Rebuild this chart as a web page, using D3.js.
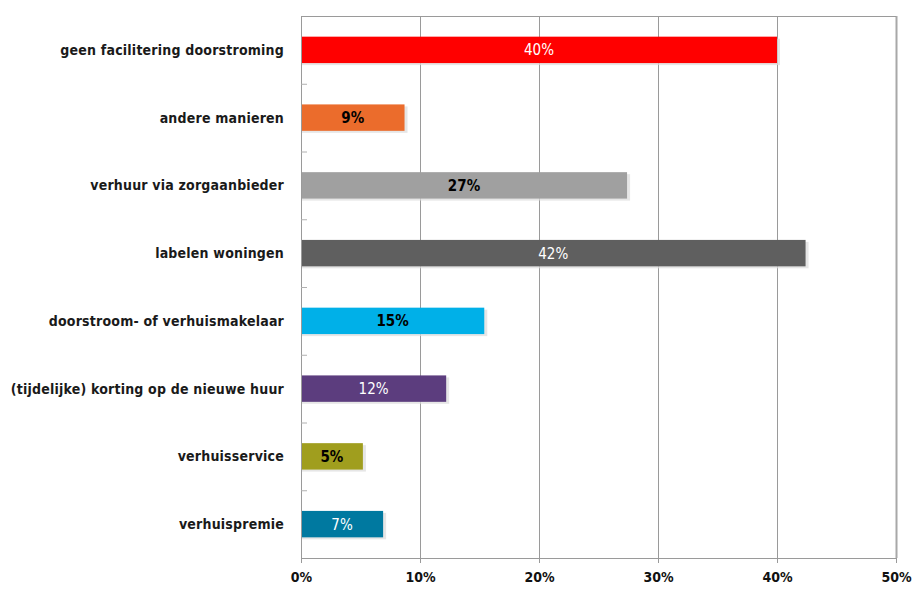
<!DOCTYPE html>
<html>
<head>
<meta charset="utf-8">
<script src="https://cdn.jsdelivr.net/npm/d3@7"></script>
<style>
  html, body { margin: 0; padding: 0; background: #fff; }
  svg { display: block; }
  .cat { font-family: "DejaVu Sans Condensed", "DejaVu Sans", sans-serif; font-size: 14px; font-weight: bold; letter-spacing: 0.2px; fill: #1a1a1a; }
  .tick-label { font-family: "DejaVu Sans Condensed", "DejaVu Sans", sans-serif; font-size: 14px; font-weight: bold; fill: #111; }
  .val { font-family: "DejaVu Sans Condensed", "DejaVu Sans", sans-serif; font-size: 15px; }
</style>
</head>
<body>
<svg id="chart" width="915" height="590"></svg>
<script>
// Survey answers: share of respondents per measure
const categories = [
  "geen facilitering doorstroming",
  "andere manieren",
  "verhuur via zorgaanbieder",
  "labelen woningen",
  "doorstroom- of verhuismakelaar",
  "(tijdelijke) korting op de nieuwe huur",
  "verhuisservice",
  "verhuispremie"
];
const values = [0.40, 0.087, 0.274, 0.424, 0.154, 0.122, 0.052, 0.069];
const barColors = ["#ff0000", "#eb6c2c", "#a0a0a0", "#5f5f5f", "#00b0e8", "#5c3d7e", "#a09e1e", "#0079a0"];
const labelColors = ["#ffffff", "#000000", "#000000", "#ffffff", "#000000", "#ffffff", "#000000", "#ffffff"];
const xTicks = [0, 0.1, 0.2, 0.3, 0.4, 0.5];

const svg = d3.select("#chart");
const plotL = 301, plotR = 896, plotT = 16, plotB = 558;

const x = d3.scaleLinear().domain([0, 0.5]).range([plotL, plotR]);
const y = d3.scaleBand().domain(categories).range([plotT, plotB]).paddingInner(0.61).paddingOuter(0.305);
const band = d3.scaleBand().domain(categories).range([plotT, plotB]);

// vertical gridlines
svg.append("g").selectAll("line").data(xTicks.slice(1)).join("line")
  .attr("x1", d => x(d) + 0.5).attr("x2", d => x(d) + 0.5)
  .attr("y1", plotT).attr("y2", plotB)
  .attr("stroke", d => d === 0.5 ? "#a8a8a8" : "#9a9a9a")
  .attr("stroke-width", d => d === 0.5 ? 2 : 1);

// top border
svg.append("line").attr("x1", plotL).attr("x2", plotR).attr("y1", plotT + 0.5).attr("y2", plotT + 0.5)
  .attr("stroke", "#9a9a9a");

// bar shadows
svg.append("g").selectAll("rect").data(categories).join("rect")
  .attr("x", plotL + 1)
  .attr("y", d => y(d) + 2)
  .attr("width", (d, i) => x(values[i]) - plotL + 2)
  .attr("height", y.bandwidth())
  .attr("fill", "#dcdcdc")
  .attr("opacity", 0.7);

// bars
svg.append("g").selectAll("rect").data(categories).join("rect")
  .attr("x", plotL)
  .attr("y", d => y(d))
  .attr("width", (d, i) => x(values[i]) - plotL)
  .attr("height", y.bandwidth())
  .attr("fill", (d, i) => barColors[i]);

// value labels
const fmt = d3.format(".0%");
svg.append("g").selectAll("text").data(categories).join("text")
  .attr("class", "val")
  .attr("x", (d, i) => (plotL + x(values[i])) / 2)
  .attr("y", d => y(d) + y.bandwidth() / 2)
  .attr("dy", "0.36em")
  .attr("text-anchor", "middle")
  .attr("fill", (d, i) => labelColors[i])
  .attr("font-weight", (d, i) => labelColors[i] === "#000000" ? "bold" : "normal")
  .text((d, i) => fmt(values[i]));

// left axis line with ticks at band boundaries
svg.append("line").attr("x1", plotL + 0.5).attr("x2", plotL + 0.5).attr("y1", plotT).attr("y2", plotB + 5)
  .attr("stroke", "#9a9a9a");
svg.append("g").selectAll("line").data(categories.slice(1)).join("line")
  .attr("x1", plotL).attr("x2", plotL + 6)
  .attr("y1", d => band(d) + 0.5).attr("y2", d => band(d) + 0.5)
  .attr("stroke", "#b0b0b0");

// bottom axis
const xAxis = d3.axisBottom(x).tickValues(xTicks).tickFormat(d3.format(".0%")).tickSize(5).tickSizeOuter(0);
const gx = svg.append("g").attr("transform", `translate(0,${plotB})`).call(xAxis);
gx.select(".domain").attr("stroke", "#9a9a9a");
gx.selectAll(".tick line").attr("stroke", "#9a9a9a");
gx.selectAll(".tick text").attr("class", "tick-label").attr("y", 14).attr("dy", "0.71em");

// category labels
svg.append("g").selectAll("text").data(categories).join("text")
  .attr("class", "cat")
  .attr("x", 284)
  .attr("y", d => band(d) + band.bandwidth() / 2)
  .attr("dy", "0.36em")
  .attr("text-anchor", "end")
  .text(d => d);
</script>
</body>
</html>
